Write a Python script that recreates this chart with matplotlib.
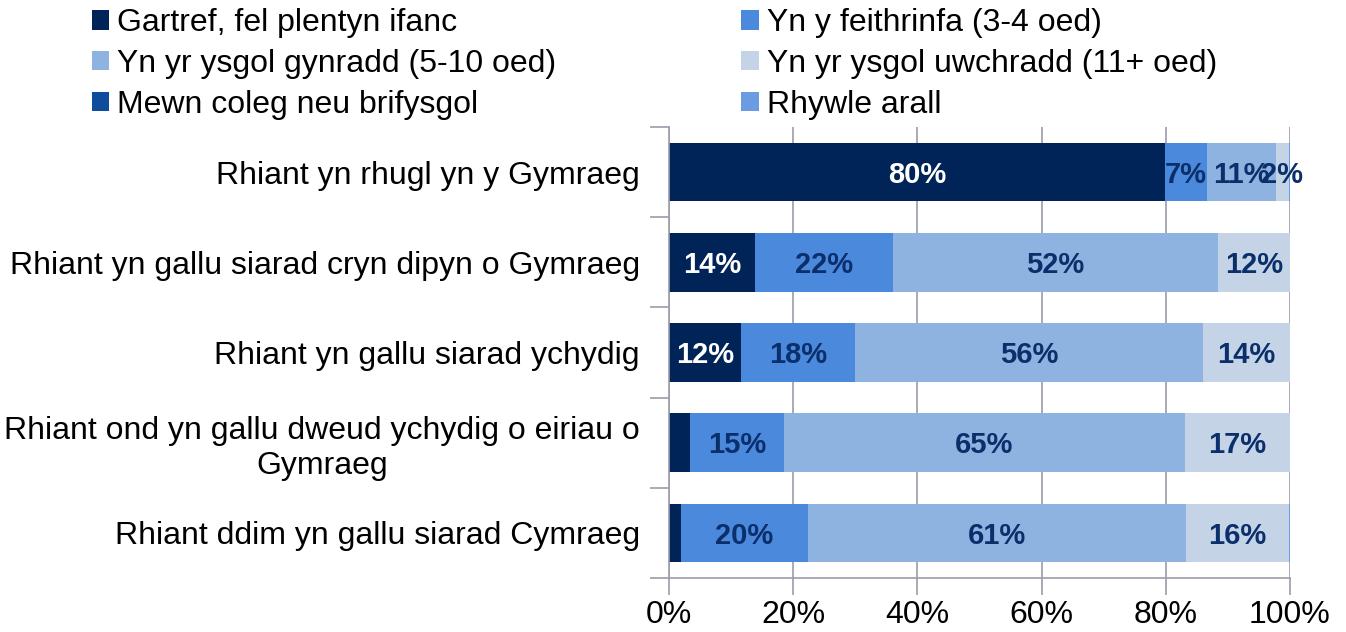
import matplotlib.pyplot as plt
import numpy as np

plt.rcParams['font.family'] = ['Liberation Sans', 'DejaVu Sans']

categories = [
    "Rhiant yn rhugl yn y Gymraeg",
    "Rhiant yn gallu siarad cryn dipyn o Gymraeg",
    "Rhiant yn gallu siarad ychydig",
    "Rhiant ond yn gallu dweud ychydig o eiriau o\nGymraeg",
    "Rhiant ddim yn gallu siarad Cymraeg",
]
series_names = [
    "Gartref, fel plentyn ifanc",
    "Yn y feithrinfa (3-4 oed)",
    "Yn yr ysgol gynradd (5-10 oed)",
    "Yn yr ysgol uwchradd (11+ oed)",
    "Mewn coleg neu brifysgol",
    "Rhywle arall",
]
# percentages per series, one value per category
gartref = [79.9, 13.8, 11.6, 3.4, 1.9]
feithrinfa = [6.7, 22.3, 18.4, 15.1, 20.5]
gynradd = [11.1, 52.3, 56.0, 64.6, 60.9]
uwchradd = [2.1, 11.6, 14.0, 16.9, 16.5]
coleg = [0.0, 0.0, 0.0, 0.0, 0.0]
arall = [0.2, 0.0, 0.0, 0.0, 0.2]

labels_gartref = ["80%", "14%", "12%", "", ""]
labels_feithrinfa = ["7%", "22%", "18%", "15%", "20%"]
labels_gynradd = ["11%", "52%", "56%", "65%", "61%"]
labels_uwchradd = ["2%", "12%", "14%", "17%", "16%"]

series = [gartref, feithrinfa, gynradd, uwchradd, coleg, arall]
labels = [labels_gartref, labels_feithrinfa, labels_gynradd, labels_uwchradd, None, None]
colors = ["#002458", "#4a89dc", "#8fb3e0", "#c5d3e6", "#0f4c9c", "#6b9be0"]
label_colors = ["white", "#0b2f6b", "#0b2f6b", "#0b2f6b", None, None]

FS = 23

fig = plt.figure(figsize=(13.46, 6.32), dpi=100)
ax = fig.add_axes([0.497, 0.0854, 0.4613, 0.7137])

y = np.arange(len(categories))
left = np.zeros(len(categories))
handles = []
for vals, name, col, labs, lc in zip(series, series_names, colors, labels, label_colors):
    v = np.array(vals) / 100.0
    bars = ax.barh(y, v, left=left, height=0.65, color=col, label=name, zorder=2)
    handles.append(bars)
    if labs is not None:
        for yi, (l0, w, t) in enumerate(zip(left, v, labs)):
            if t:
                ax.text(l0 + w / 2, yi + 0.03, t, ha='center', va='center', color=lc,
                        fontsize=FS - 2, fontweight='bold', zorder=3)
    left = left + v

ax.set_xlim(0, 1)
ax.set_ylim(4.5, -0.5)
ax.set_xticks(np.linspace(0, 1, 6))
ax.set_xticklabels([f"{int(t*100)}%" for t in np.linspace(0, 1, 6)], fontsize=FS)
ax.xaxis.grid(True, color='#9c9cac', linewidth=1.2, zorder=0)
ax.tick_params(axis='x', length=12, color='#9c9cac', width=1.2, pad=4)

ax.set_yticks(y)
ax.set_yticklabels(categories, fontsize=FS)
for lab in ax.get_yticklabels():
    lab.set_multialignment('center')
ax.set_yticks(np.arange(-0.5, 5, 1), minor=True)
ax.tick_params(axis='y', which='major', length=0, pad=21)
ax.tick_params(axis='y', which='minor', length=14, color='#9c9cac', width=1.2)

for s in ['top', 'right']:
    ax.spines[s].set_visible(False)
for s in ['left', 'bottom']:
    ax.spines[s].set_color('#9c9cac')
    ax.spines[s].set_linewidth(1.2)

order = [0, 2, 4, 1, 3, 5]
fig.legend([handles[i] for i in order], [series_names[i] for i in order],
           ncol=2, loc='upper left', bbox_to_anchor=(0.068, 0.987), frameon=False,
           fontsize=FS, handlelength=0.55, handleheight=0.55, handletextpad=0.25,
           columnspacing=5.8, labelspacing=0.34, borderpad=0, borderaxespad=0)

fig.savefig("out.png", dpi=100)
